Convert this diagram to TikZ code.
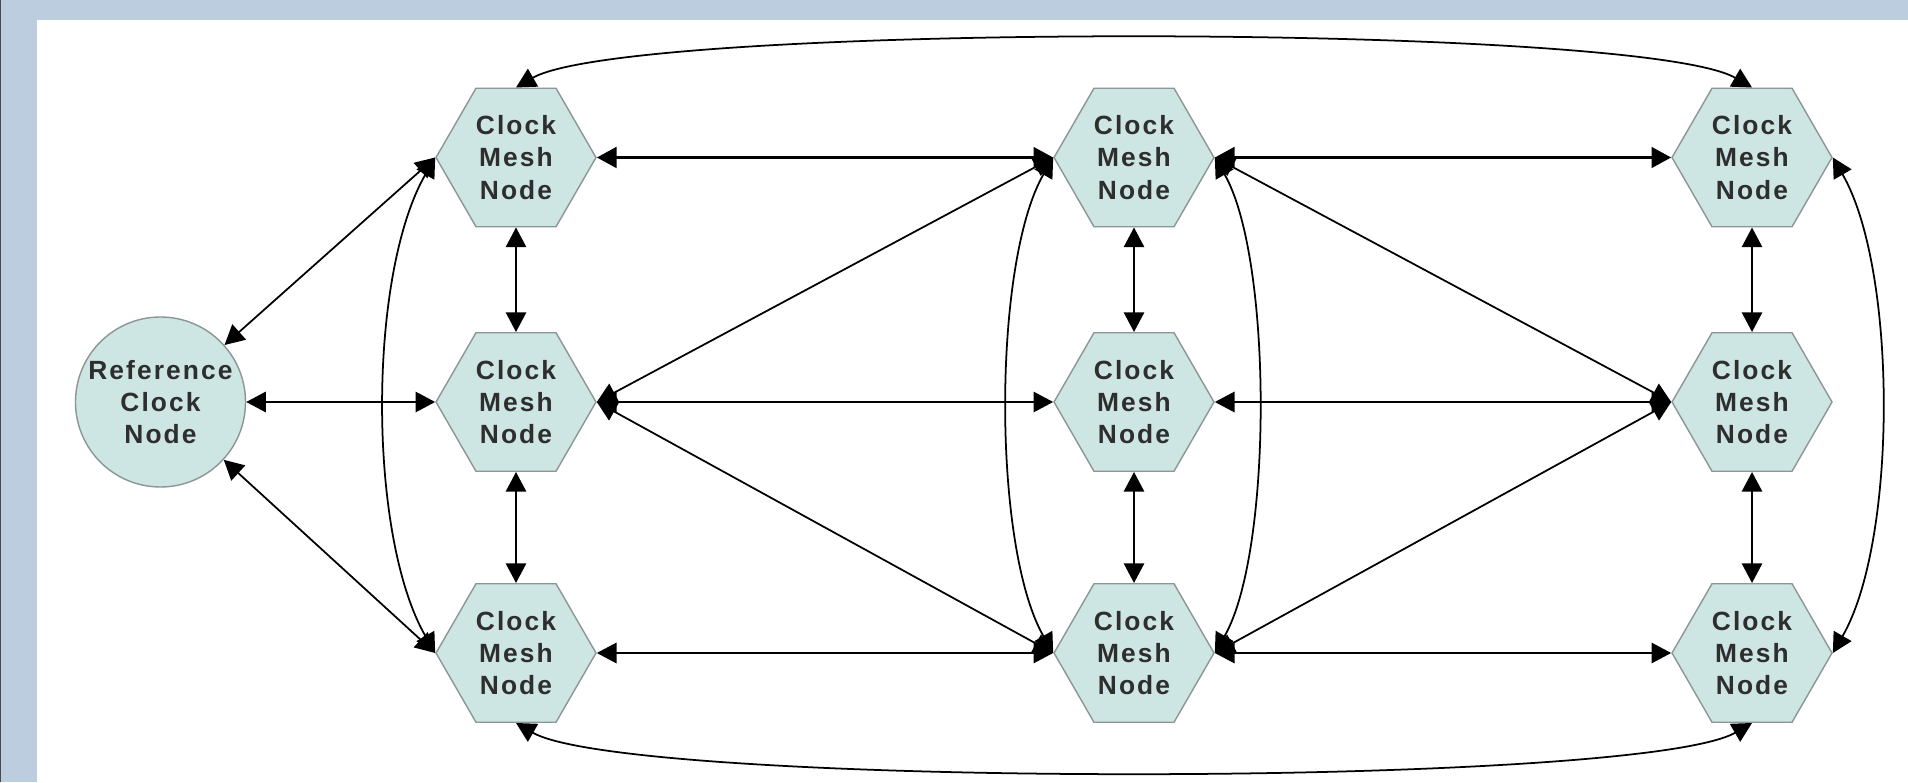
\documentclass[tikz,border=0pt]{standalone}
\usepackage{fontspec}
\usetikzlibrary{shapes.geometric,arrows.meta}
\newfontfamily\meshfont[LetterSpace=8]{Liberation Sans}
\definecolor{bgblue}{HTML}{BCCDDF}
\definecolor{meshfill}{HTML}{CDE6E3}
\definecolor{meshline}{HTML}{8C9696}
\definecolor{labelgray}{HTML}{2E2E2E}
\definecolor{frameline}{HTML}{4A4A4A}
\tikzset{
  meshnode/.style={regular polygon, regular polygon sides=6, minimum size=1.6cm, inner sep=0pt,
    draw=meshline, line width=0.4pt, fill=meshfill, align=center, text=labelgray,
    font=\meshfont\bfseries\fontsize{7.5}{9.2}\selectfont},
  refnode/.style={meshnode, circle, minimum size=1.7cm},
  link/.style={{Triangle[length=5.6pt,width=5.8pt]}-{Triangle[length=5.6pt,width=5.8pt]}, line width=0.5pt},
  boldlink/.style={link, line width=1pt}
}
\begin{document}
\begin{tikzpicture}
\useasboundingbox (0,0) rectangle (19.08,7.82);
\fill [bgblue] (0,0) rectangle (19.08,7.82);
\fill [white] (0.37,0) rectangle (19.08,7.62);
\fill [frameline] (0,0) rectangle (0.015,7.82);

\node [refnode] (ref) at (1.605,3.80) {Reference\\Clock\\Node};
% first column
\node [meshnode] (m11) at (5.16,6.245) {Clock\\Mesh\\Node};
\node [meshnode] (m21) at (5.16,3.80) {Clock\\Mesh\\Node};
\node [meshnode] (m31) at (5.16,1.29) {Clock\\Mesh\\Node};
% second column
\node [meshnode] (m12) at (11.34,6.245) {Clock\\Mesh\\Node};
\node [meshnode] (m22) at (11.34,3.80) {Clock\\Mesh\\Node};
\node [meshnode] (m32) at (11.34,1.29) {Clock\\Mesh\\Node};
% third column
\node [meshnode] (m13) at (17.52,6.245) {Clock\\Mesh\\Node};
\node [meshnode] (m23) at (17.52,3.80) {Clock\\Mesh\\Node};
\node [meshnode] (m33) at (17.52,1.29) {Clock\\Mesh\\Node};

\draw [link] (ref) -- (m11.west);
\draw [link] (ref.east) -- (m21.west);
\draw [link] (ref) -- (m31.west);

\draw [link] (m11.south) -- (m21.north);
\draw [link] (m21.south) -- (m31.north);
\draw [link] (m12.south) -- (m22.north);
\draw [link] (m22.south) -- (m32.north);
\draw [link] (m13.south) -- (m23.north);
\draw [link] (m23.south) -- (m33.north);

\draw [boldlink] (m11.east) -- (m12.west);
\draw [boldlink] (m12.east) -- (m13.west);
\draw [link] (m21.east) -- (m22.west);
\draw [link] (m22.east) -- (m23.west);
\draw [link] (m31.east) -- (m32.west);
\draw [link] (m32.east) -- (m33.west);

\draw [link] (m21.east) -- (m12.west);
\draw [link] (m21.east) -- (m32.west);
\draw [link] (m12.east) -- (m23.west);
\draw [link] (m32.east) -- (m23.west);

\draw [link] (m11.west) to [out=240,in=120,looseness=0.7] (m31.west);
\draw [link] (m12.west) to [out=240,in=120,looseness=0.63] (m32.west);
\draw [link] (m12.east) to [out=-60,in=60,looseness=0.6] (m32.east);
\draw [link] (m13.east) to [out=-60,in=60,looseness=0.67] (m33.east);

\draw [link] (m11.north) to [out=30,in=150,looseness=0.27] (m13.north);
\draw [link] (m31.south) to [out=-30,in=-150,looseness=0.27] (m33.south);
\end{tikzpicture}
\end{document}
